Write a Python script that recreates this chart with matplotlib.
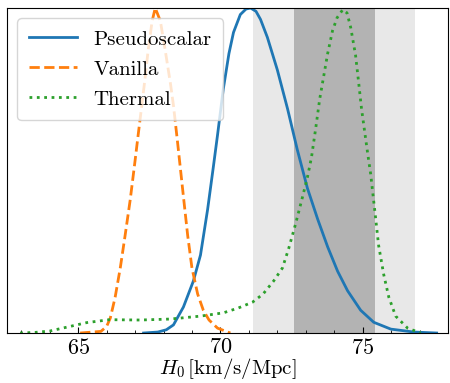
import matplotlib
matplotlib.use("Agg")
import matplotlib.pyplot as plt

plt.rcParams['font.family'] = 'serif'
plt.rcParams['font.serif'] = ['cmr10']
plt.rcParams['mathtext.fontset'] = 'cm'
plt.rcParams['axes.formatter.use_mathtext'] = True

# Data (normalised posteriors)
pseudo_h0 = [67.3, 67.8, 68.1, 68.35, 68.7, 69.05, 69.3, 69.55, 69.75, 69.9, 70.1,
             70.3, 70.46, 70.7, 70.9, 71.06, 71.25, 71.41, 71.65, 72.0, 72.36,
             72.7, 73.06, 73.42, 73.77, 74.12, 74.47, 74.93, 75.39, 75.99, 76.8, 77.6]
pseudo_p = [0.0, 0.003, 0.01, 0.025, 0.08, 0.16, 0.24, 0.38, 0.51, 0.61, 0.75,
            0.86, 0.925, 0.98, 0.997, 1.0, 0.99, 0.965, 0.91, 0.81, 0.69,
            0.565, 0.445, 0.35, 0.265, 0.19, 0.13, 0.07, 0.033, 0.012, 0.003, 0.0]

vanilla_h0 = [65.07, 65.8, 66.0, 66.13, 66.3, 66.48, 66.65, 66.83, 67.0, 67.11, 67.25,
              67.36, 67.46, 67.6, 67.71, 67.89, 68.06, 68.24, 68.35, 68.49, 68.7,
              68.85, 69.0, 69.2, 69.4, 69.6, 69.9, 70.35]
vanilla_p = [0.0, 0.005, 0.02, 0.046, 0.11, 0.20, 0.30, 0.41, 0.53, 0.61, 0.71,
             0.79, 0.87, 0.96, 1.0, 0.96, 0.87, 0.77, 0.70, 0.59, 0.42,
             0.30, 0.20, 0.12, 0.07, 0.04, 0.015, 0.0]

thermal_h0 = [62.96, 63.5, 64.0, 64.6, 65.3, 66.1, 67.18, 68.24, 69.3, 70.1, 70.63,
              71.13, 71.5, 71.87, 72.18, 72.4, 72.64, 72.89, 73.06, 73.2, 73.35,
              73.49, 73.63, 73.77, 73.94, 74.1, 74.3, 74.45, 74.58, 74.75, 74.86,
              74.96, 75.07, 75.18, 75.28, 75.37, 75.46, 75.56, 75.74, 75.92, 76.16,
              76.58, 77.04]
thermal_p = [0.0, 0.002, 0.006, 0.018, 0.032, 0.041, 0.04, 0.043, 0.052, 0.062, 0.077,
             0.095, 0.12, 0.16, 0.20, 0.26, 0.335, 0.42, 0.48, 0.54, 0.63,
             0.72, 0.79, 0.86, 0.93, 0.97, 0.995, 0.985, 0.94, 0.855, 0.77,
             0.69, 0.62, 0.55, 0.49, 0.42, 0.35, 0.27, 0.18, 0.11, 0.052,
             0.015, 0.0]

shoes_mean = 74.0
shoes_sigma = 1.42

fig = plt.figure(figsize=(4.5, 3.83), dpi=100)
ax = fig.add_axes([0.0156, 0.1305, 0.98, 0.8485])

ax.axvspan(shoes_mean - 2 * shoes_sigma, shoes_mean + 2 * shoes_sigma, color='#e8e8e8', lw=0, zorder=0)
ax.axvspan(shoes_mean - shoes_sigma, shoes_mean + shoes_sigma, color='#b3b3b3', lw=0, zorder=0.5)

ax.plot(pseudo_h0, pseudo_p, color='#1f77b4', lw=2, label='Pseudoscalar', solid_joinstyle='round')
ax.plot(vanilla_h0, vanilla_p, color='#ff7f0e', lw=2, ls='--', label='Vanilla')
ax.plot(thermal_h0, thermal_p, color='#2ca02c', lw=2, ls=':', label='Thermal')

ax.set_xlim(62.5, 78.0)
ax.set_ylim(0, 1.0)
ax.set_yticks([])
ax.set_xticks([65, 70, 75])
ax.set_xticks(range(63, 78), minor=True)
ax.tick_params(axis='x', which='both', direction='in', labelsize=16)
ax.tick_params(axis='x', which='major', length=4)
ax.tick_params(axis='x', which='minor', length=2)
ax.set_xlabel(r'$H_0\,[\mathrm{km/s/Mpc}]$', fontsize=15, labelpad=-1)

ax.legend(loc='upper left', fontsize=15, framealpha=0.8, handlelength=2.3,
          handletextpad=0.8, borderpad=0.55, labelspacing=0.55)

fig.savefig('out.png', dpi=100)
